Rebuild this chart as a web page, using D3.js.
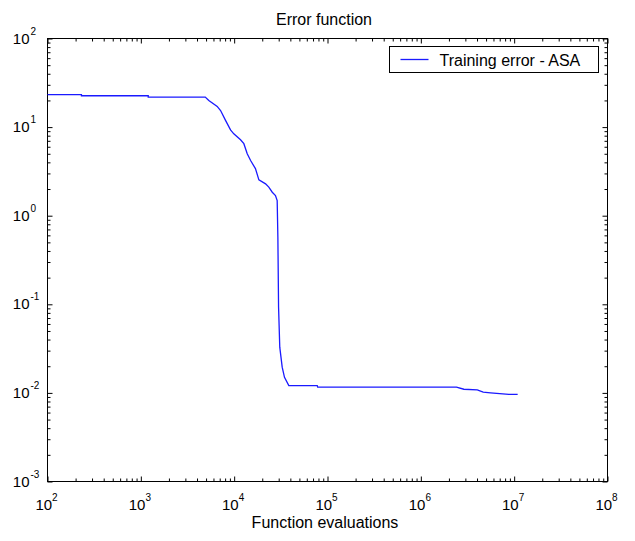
<!DOCTYPE html>
<html>
<head>
  <meta charset="UTF-8">
  <style>
    body { margin: 0; background: #fff; }
    svg { display: block; font-family: Arial, "Liberation Sans", sans-serif; }
    .domain { display: none; }
  </style>
</head>
<body>
  <svg></svg>
<script src="https://d3js.org/d3.v7.min.js"></script>
<script>

// Training error (ASA) vs number of function evaluations
let evals = [100, 231, 231, 1200, 1200, 4900, 5350, 6580, 7150, 8080, 9140, 9910,
  11700, 12700, 13800, 15000, 16900, 18400, 21700, 23500, 25600, 27700, 28900,
  29400, 29900, 30800, 32700, 34600, 38500, 77600, 78500, 2.41e6, 2.89e6,
  4.02e6, 4.66e6, 5.58e6, 8.77e6, 1.09e7];
let errors = [23.3, 23.3, 22.6, 22.6, 21.8, 21.8, 20.0, 17.1, 15.4, 11.9, 9.3, 8.4,
  7.2, 6.5, 5.0, 4.2, 3.4, 2.54, 2.29, 2.10, 1.84, 1.69, 1.48,
  0.57, 0.093, 0.0328, 0.0195, 0.0150, 0.0121, 0.0121, 0.0116, 0.0116, 0.0110,
  0.0108, 0.0102, 0.0100, 0.0096, 0.0096];

let xExps = [2, 3, 4, 5, 6, 7, 8];
let yExps = [-3, -2, -1, 0, 1, 2];

let width = 635,
    height = 541;
let margin = {top: 38, right: 28, bottom: 60, left: 47};
let w = width - margin.left - margin.right,
    h = height - margin.top - margin.bottom;

let svg = d3.select("svg")
    .attr("width", width)
    .attr("height", height);

let x = d3.scaleLog().domain([1e2, 1e8]).range([0, w]);
let y = d3.scaleLog().domain([1e-3, 1e2]).range([h, 0]);

let g = svg.append("g")
    .attr("transform", "translate(" + (margin.left + 0.5) + "," + (margin.top + 0.5) + ")");

// minor tick values: 2..9 x 10^k
function minors(exps) {
  let out = [];
  for (let i = 0; i < exps.length - 1; i++) {
    for (let m = 2; m <= 9; m++) out.push(m * Math.pow(10, exps[i]));
  }
  return out;
}
let xMajor = xExps.map(e => Math.pow(10, e));
let yMajor = yExps.map(e => Math.pow(10, e));

// ticks on all four sides, pointing inward
let axes = [
  [d3.axisBottom(x), "translate(0," + h + ")", xMajor, minors(xExps)],
  [d3.axisTop(x), "translate(0,0)", xMajor, minors(xExps)],
  [d3.axisLeft(y), "translate(0,0)", yMajor, minors(yExps)],
  [d3.axisRight(y), "translate(" + w + ",0)", yMajor, minors(yExps)]
];
axes.forEach(a => {
  g.append("g").attr("transform", a[1])
    .call(a[0].tickValues(a[3]).tickSize(-3).tickFormat(""));
  g.append("g").attr("transform", a[1])
    .call(a[0].tickValues(a[2]).tickSize(-5).tickFormat(""));
});
g.selectAll(".tick line").attr("stroke", "#000");

// box
g.append("rect")
    .attr("width", w)
    .attr("height", h)
    .attr("fill", "none")
    .attr("stroke", "#000");

// tick labels as 10^n
let xl = g.append("g").selectAll("text")
  .data(xExps).enter().append("text")
    .attr("x", d => x(Math.pow(10, d)) - 1)
    .attr("y", h + 28)
    .attr("text-anchor", "middle")
    .style("font-size", "15px");
xl.append("tspan").text("10");
xl.append("tspan").attr("dy", -9).style("font-size", "10px").text(d => d);

let yl = g.append("g").selectAll("text")
  .data(yExps).enter().append("text")
    .attr("x", -18)
    .attr("y", d => y(Math.pow(10, d)) + 5)
    .attr("text-anchor", "end")
    .style("font-size", "15px")
    .text("10");
g.append("g").selectAll("text")
  .data(yExps).enter().append("text")
    .attr("x", -17)
    .attr("y", d => y(Math.pow(10, d)) - 4)
    .style("font-size", "10px")
    .text(d => d);

// data line
let line = d3.line()
    .x((d, i) => x(evals[i]))
    .y(d => y(d));

g.append("path")
    .datum(errors)
    .attr("fill", "none")
    .attr("stroke", "#1a1aff")
    .attr("stroke-width", 1.3)
    .attr("d", line);

// title and x label
svg.append("text")
    .attr("x", 324)
    .attr("y", 25)
    .attr("text-anchor", "middle")
    .style("font-size", "16px")
    .text("Error function");

svg.append("text")
    .attr("x", 325)
    .attr("y", 528)
    .attr("text-anchor", "middle")
    .style("font-size", "16px")
    .text("Function evaluations");

// legend
let lg = svg.append("g").attr("transform", "translate(389.5,46.5)");
lg.append("rect")
    .attr("width", 209)
    .attr("height", 26)
    .attr("fill", "#fff")
    .attr("stroke", "#000");
lg.append("line")
    .attr("x1", 11).attr("x2", 39)
    .attr("y1", 13).attr("y2", 13)
    .attr("stroke", "#1a1aff")
    .attr("stroke-width", 1.3);
lg.append("text")
    .attr("x", 50)
    .attr("y", 19)
    .style("font-size", "16px")
    .text("Training error - ASA");

</script>
</body>
</html>
